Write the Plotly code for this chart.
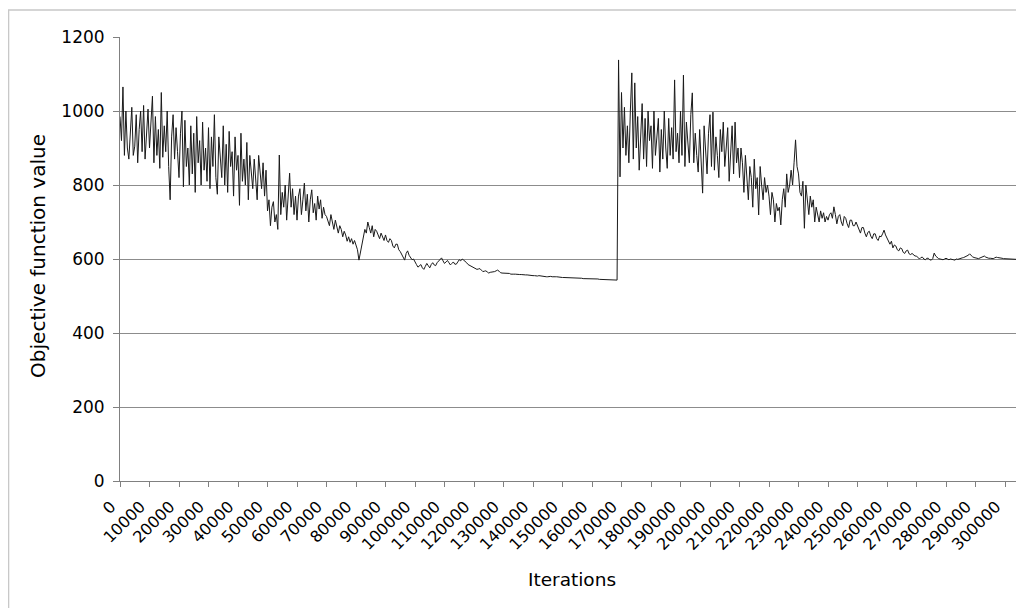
import plotly.graph_objects as go

values_run1 = [
    985, 920, 1065, 880, 1000, 900, 870, 960, 1010, 880, 905, 990, 860, 950, 1000, 890, 1015, 870, 940, 1005,
    900, 960, 1040, 860, 985, 880, 950, 845, 1050, 875, 960, 890, 1000, 850, 760, 930, 990, 870, 955, 890,
    820, 940, 1000, 795, 975, 850, 900, 800, 960, 830, 940, 780, 985, 860, 920, 800, 970, 840, 900, 810,
    955, 790, 930, 850, 990, 820, 775, 930, 880, 820, 960, 800, 910, 780, 945, 850, 890, 770, 930, 840,
    880, 745, 940, 810, 870, 800, 915, 760, 880, 830, 790, 870, 800, 760, 880, 830, 790, 860, 770, 840,
    730, 760, 690, 740, 755, 700, 720, 680, 881, 720, 780, 740, 800, 705, 760, 832, 740, 790, 720, 770,
    705, 770, 790, 720, 760, 805, 730, 775, 700, 760, 787, 725, 750, 705, 770, 735, 760, 710, 740, 720,
    715, 700, 690, 720, 700, 680, 705, 690, 670, 690, 680, 660, 675, 665, 648, 660, 645, 655, 640, 650,
    640, 625, 597, 620, 640, 665, 680, 670, 700, 685, 670, 690, 660, 680, 675, 665, 655, 670, 660, 650,
    665, 650, 645, 655, 650, 635, 630, 640, 640, 625, 620, 612, 608, 597, 615, 622, 610, 605, 598, 600,
    590, 585, 578, 583, 585, 576, 572, 580, 588, 582, 576, 585, 590, 584, 582, 590, 595, 598, 603, 595,
    588, 592, 596, 590, 584, 588, 592, 586, 586, 592, 598, 595, 600, 597, 594, 590, 585, 583, 580, 578,
    576, 574, 572, 573, 574, 570, 566, 567, 568, 565, 562, 564, 564, 566, 566, 568, 570, 567, 563, 562,
    562, 561, 560, 561, 561, 559, 558, 559, 559, 558, 557, 558, 558, 557, 556, 557, 557, 556, 555, 556,
    555, 555, 554, 554, 555, 554, 553, 553, 553, 552, 552, 553, 553, 552, 551, 552, 552, 551, 551, 550,
    550, 550, 550, 549, 549, 550, 550, 549, 548, 548, 549, 548, 548, 548, 547, 547, 548, 547, 547, 547,
    547, 546, 546, 546, 546, 545, 545, 545, 545, 544, 544, 544, 545, 544, 544, 543, 543, 543,
]
values_run2 = [
    1138, 822,
    1050, 900, 1010, 880, 960, 860, 1000, 1103, 870, 1076, 900, 985, 840, 950, 1020, 870, 980, 850, 1000, 920,
    960, 845, 1000, 880, 940, 980, 835, 950, 870, 1000, 900, 845, 980, 880, 955, 870, 1084, 890, 940, 860,
    1000, 880, 1097, 850, 970, 900, 860, 990, 1049, 860, 940, 880, 835, 950, 880, 778, 960, 900, 830, 940,
    990, 850, 997, 840, 930, 880, 820, 950, 890, 970, 850, 900, 955, 810, 880, 960, 830, 970, 860, 900,
    820, 900, 860, 780, 880, 800, 760, 850, 820, 740, 870, 790, 820, 719, 850, 800, 760, 820, 780, 800,
    770, 720, 780, 760, 700, 750, 730, 740, 692, 760, 790, 740, 830, 780, 800, 840, 800, 860, 922, 850,
    830, 780, 770, 810, 683, 800, 760, 720, 770, 740, 760, 700, 740, 720, 700, 730, 710, 725, 700, 715,
    705, 720, 725, 710, 741, 720, 695, 715, 720, 700, 690, 715, 710, 695, 685, 705, 705, 690, 690, 700,
    690, 680, 670, 685, 685, 670, 660, 672, 675, 662, 655, 668, 668, 655, 650, 662, 660, 668, 678, 665,
    655, 645, 640, 648, 630, 638, 635, 625, 622, 630, 628, 618, 615, 622, 624, 614, 612, 615, 610, 608,
    608, 603, 600, 604, 605, 600, 598, 602, 602, 598, 597, 601, 616, 608, 604, 601, 600, 599, 598, 600,
    602, 600, 598, 600, 600, 598, 597, 600, 599, 601, 601, 603, 604, 606, 607, 610, 614, 609, 606, 604,
    602, 602, 601, 603, 604, 606, 608, 605, 603, 602, 602, 601, 601, 603, 605, 604, 604, 603, 602, 601,
    601, 600, 600, 600, 600, 599, 599, 599, 599, 598, 598, 598,
]
values = values_run1 + values_run2
step = 500
iterations = [i * step for i in range(len(values))]

x_tick_values = [i * 10000 for i in range(31)]
x_tick_labels = [str(v) for v in x_tick_values]
y_tick_values = [0, 200, 400, 600, 800, 1000, 1200]
x_title = "Iterations"
y_title = "Objective function value"

FONT = "DejaVu Sans"

fig = go.Figure()
fig.add_trace(go.Scatter(
    x=iterations, y=values, mode="lines",
    line=dict(color="#1a1a1a", width=1),
    showlegend=False, hoverinfo="skip",
))

# the page body adds an 8px offset, so the figure is 1016x600
fig.update_layout(
    width=1016, height=600,
    margin=dict(l=112, r=0, t=29, b=127),
    paper_bgcolor="white", plot_bgcolor="white",
    font=dict(family=FONT, size=17, color="black"),
    showlegend=False,
)
fig.update_xaxes(
    range=[0, 306441], automargin=False,
    tickmode="array", tickvals=x_tick_values, ticktext=x_tick_labels,
    tickangle=-45, tickfont=dict(size=16),
    ticklabelshift=-9, ticklabelstandoff=4,
    ticks="outside", ticklen=5, tickcolor="#808080",
    showline=True, linecolor="#808080", linewidth=1,
    showgrid=False, zeroline=False,
    title=dict(text=x_title, font=dict(size=18.5), standoff=20),
)
fig.update_yaxes(
    range=[0, 1200], automargin=False,
    tickmode="array", tickvals=y_tick_values,
    tickfont=dict(size=17), ticklabelstandoff=5,
    ticks="outside", ticklen=6, tickcolor="#808080",
    showline=True, linecolor="#808080", linewidth=1,
    showgrid=True, gridcolor="#8c8c8c", gridwidth=1,
    zeroline=False,
)
fig.add_annotation(
    text=y_title, textangle=-90, showarrow=False,
    xref="paper", yref="paper", x=-0.0907, y=0.507,
    xanchor="center", yanchor="middle",
    font=dict(family=FONT, size=20, color="black"),
)
# outer chart border
fig.add_shape(type="rect", xref="paper", yref="paper",
              x0=-0.1233, x1=1.02, y0=-0.32, y1=1.0608,
              line=dict(color="#c8c8c8", width=1.5), fillcolor="rgba(0,0,0,0)",
              layer="below")

fig.write_html("out.html")
